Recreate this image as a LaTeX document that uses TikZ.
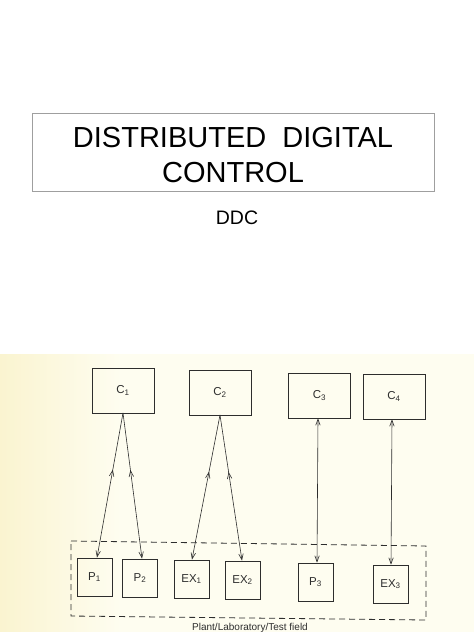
\documentclass[tikz,border=0pt]{standalone}
\usepackage{fontspec}
\setmainfont{Liberation Sans}
\usetikzlibrary{arrows.meta,decorations.markings}
\definecolor{ink}{RGB}{45,45,45}
\definecolor{paperL}{RGB}{250,244,208}
\definecolor{paperR}{RGB}{254,253,240}
\tikzset{
  px/.style={x=1pt,y=-1pt},
  cbox/.style={draw=ink,line width=0.9pt,minimum width=62pt,minimum height=45pt,inner sep=0pt,font=\fontsize{11.5}{13}\selectfont,text=ink},
  pbox/.style={draw=ink,line width=0.9pt,minimum width=35pt,minimum height=38pt,inner sep=0pt,font=\fontsize{11.5}{13}\selectfont,text=ink},
  link/.style={draw=ink,line width=0.6pt,-{Straight Barb[length=6pt,width=4.5pt]}},
  blink/.style={draw=ink,line width=0.6pt,{Straight Barb[length=6pt,width=4.5pt]}-{Straight Barb[length=6pt,width=4.5pt]}},
  midup/.style={postaction={decorate},decoration={markings,mark=at position #1 with {\arrow{Straight Barb[length=6pt,width=4.5pt,reversed]}}}},
}
\begin{document}
\begin{tikzpicture}[px]
\useasboundingbox (0,0) rectangle (474,632);
\fill[white] (0,0) rectangle (474,632);
\shade[left color=paperL,right color=paperR] (0,354) rectangle (120,632);
\fill[paperR] (120,354) rectangle (474,632);
% title
\node[draw=gray!75,line width=0.9pt,minimum width=402pt,minimum height=78pt,inner sep=0pt] (title) at (233,152) {};
\node[anchor=base,font=\fontsize{29}{34}\selectfont] (t1) at (233,147) {DISTRIBUTED\ \ DIGITAL};
\node[anchor=base,font=\fontsize{29}{34}\selectfont] (t2) at (233,182) {CONTROL};
\node[anchor=base,font=\fontsize{19.5}{23}\selectfont] (ddc) at (237,224) {DDC};
% controllers
\node[cbox] (c1) at (123,390.5) {C\textsubscript{1}};
\node[cbox] (c2) at (220,392.5) {C\textsubscript{2}};
\node[cbox] (c3) at (319.5,395.5) {C\textsubscript{3}};
\node[cbox] (c4) at (394,396.5) {C\textsubscript{4}};
% plant
\draw[ink,line width=0.8pt,dash pattern=on 6pt off 4pt] (71,541) -- (426,546) -- (426,620) -- (71,616) -- cycle;
\node[pbox] (p1) at (94.5,577) {P\textsubscript{1}};
\node[pbox] (p2) at (140,578) {P\textsubscript{2}};
\node[pbox] (ex1) at (191.5,579) {EX\textsubscript{1}};
\node[pbox] (ex2) at (242.5,580) {EX\textsubscript{2}};
\node[pbox] (p3) at (315.5,582) {P\textsubscript{3}};
\node[pbox] (ex3) at (390.5,584) {EX\textsubscript{3}};
\node[anchor=base,font=\fontsize{10}{12}\selectfont,text=ink] (lab) at (250,630) {Plant/Laboratory/Test field};
% links
\coordinate (c1b) at (123,413);
\coordinate (c2b) at (220,415);
\path[link,midup=0.44] (c1b) -- (p1.north -| 97,0);
\path[link,midup=0.44] (c1b) -- (p2.north -| 142,0);
\path[link,midup=0.44] (c2b) -- (ex1.north -| 192,0);
\path[link,midup=0.44] (c2b) -- (ex2.north -| 242,0);
\path[blink] (c3.south -| 318,0) -- (p3.north -| 317,0);
\path[blink] (c4.south -| 392,0) -- (ex3.north -| 391,0);
\end{tikzpicture}
\end{document}
